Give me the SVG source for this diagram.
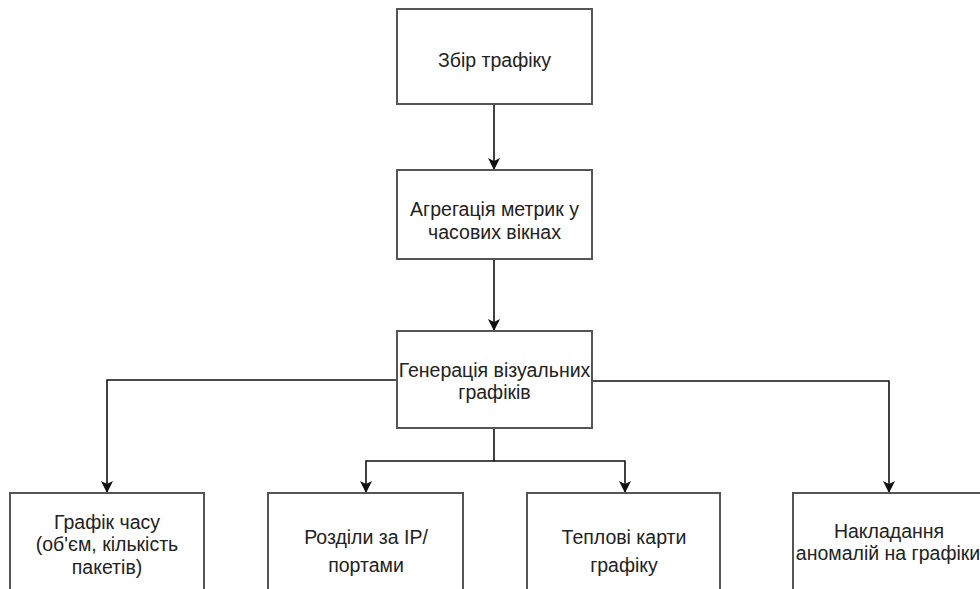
<svg xmlns="http://www.w3.org/2000/svg" width="980" height="589" viewBox="0 0 980 589">
  <defs>
    <marker id="arrow" viewBox="0 0 12 12" refX="12" refY="6" markerWidth="12" markerHeight="12" markerUnits="userSpaceOnUse" orient="auto">
      <path d="M0,0 L12,6 L0,12 L3,6 Z" fill="#111"/>
    </marker>
  </defs>
  <style>
    .box { fill: #ffffff; stroke: #555555; stroke-width: 2; }
    .lbl { font-family: "Liberation Sans", Arial, sans-serif; font-size: 19.5px; fill: #222222; text-anchor: middle; }
    .edge { fill: none; stroke: #111111; stroke-width: 1.6; marker-end: url(#arrow); }
  </style>
  <rect width="980" height="589" fill="#ffffff"/>

  <g id="connectors">
    <path class="edge" d="M494,104 L494,170"/>
    <path class="edge" d="M494,259 L494,331"/>
    <path class="edge" d="M397,380 L107,380 L107,493"/>
    <path class="edge" d="M592,381 L889,381 L889,493"/>
    <path class="edge" d="M494,428 L494,461 L366,461 L366,493"/>
    <path class="edge" d="M494,461 L625,461 L625,493"/>
  </g>

  <g id="traffic-capture">
    <rect class="box" x="397" y="9" width="195" height="95"/>
    <text class="lbl" x="494.5" y="67">Збір трафіку</text>
  </g>

  <g id="metric-aggregation">
    <rect class="box" x="397" y="170" width="195" height="89"/>
    <text class="lbl" x="494.5" y="216">Агрегація метрик у</text>
    <text class="lbl" x="494.5" y="239">часових вікнах</text>
  </g>

  <g id="chart-generation">
    <rect class="box" x="397" y="331" width="195" height="97"/>
    <text class="lbl" x="494.5" y="377">Генерація візуальних</text>
    <text class="lbl" x="494.5" y="399">графіків</text>
  </g>

  <g id="time-chart">
    <rect class="box" x="10" y="493" width="194" height="110"/>
    <text class="lbl" x="107" y="529">Графік часу</text>
    <text class="lbl" x="107" y="551">(об'єм, кількість</text>
    <text class="lbl" x="107" y="574">пакетів)</text>
  </g>

  <g id="ip-port-split">
    <rect class="box" x="268" y="493" width="195" height="110"/>
    <text class="lbl" x="366" y="544">Розділи за IP/</text>
    <text class="lbl" x="366" y="572">портами</text>
  </g>

  <g id="heatmaps">
    <rect class="box" x="527" y="493" width="193" height="110"/>
    <text class="lbl" x="624" y="544">Теплові карти</text>
    <text class="lbl" x="624" y="572">графіку</text>
  </g>

  <g id="anomaly-overlay">
    <rect class="box" x="793" y="493" width="200" height="110"/>
    <text class="lbl" x="889" y="538">Накладання</text>
    <text class="lbl" x="888" y="560">аномалій на графіки</text>
  </g>
</svg>
